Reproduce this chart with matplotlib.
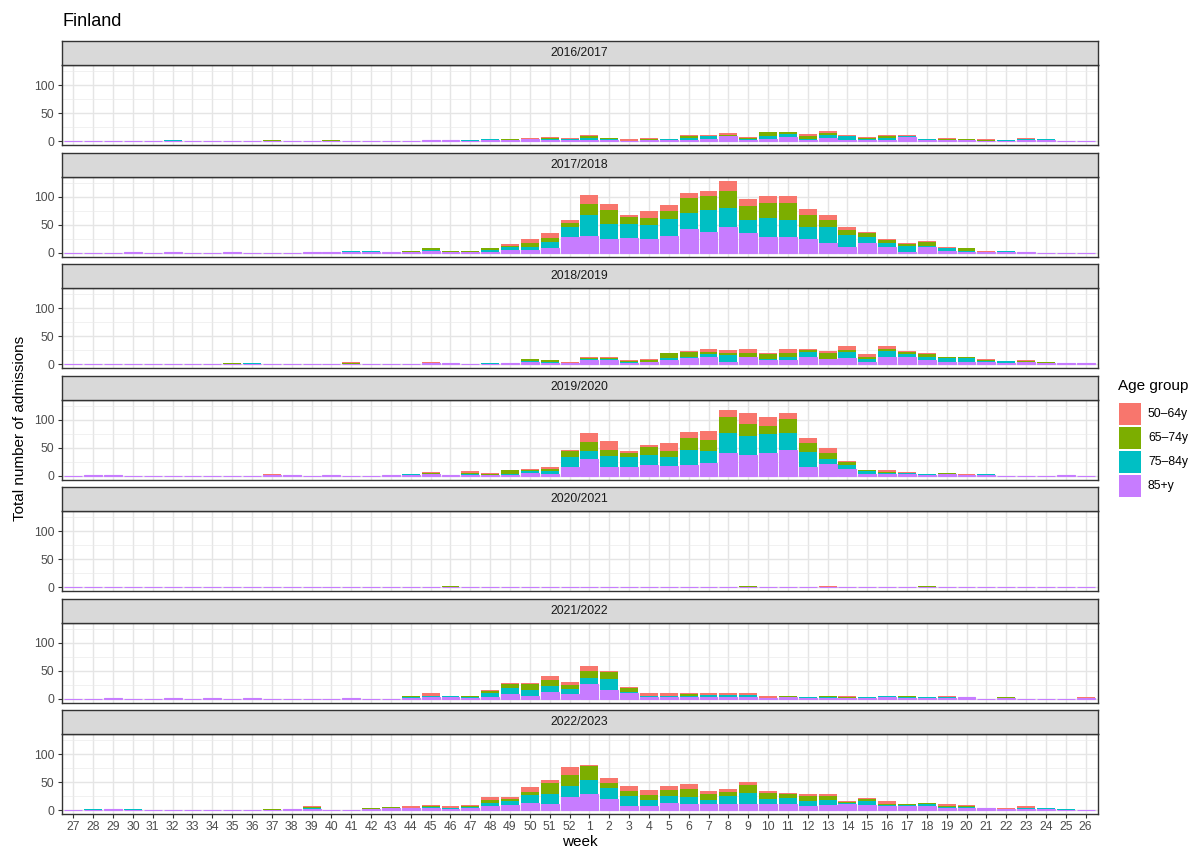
import numpy as np
import matplotlib.pyplot as plt
from matplotlib.patches import Rectangle

plt.rcParams['font.family'] = ['Liberation Sans', 'DejaVu Sans']

weeks = list(range(27, 53)) + list(range(1, 27))
seasons = ['2016/2017', '2017/2018', '2018/2019', '2019/2020',
           '2020/2021', '2021/2022', '2022/2023']
age_groups = ['50\u201364y', '65\u201374y', '75\u201384y', '85+y']
colors = ['#F8766D', '#7CAE00', '#00BFC4', '#C77CFF']

# each list: weeks 27..52 then 1..26
s16_85 = [0,0,0,0,0,0,0,0,0,0,0,0,0,0,0,0,0,0,2,2,1,2,3,4,3,3,
          3,3,1,3,2,3,5,9,3,5,7,3,6,3,3,3,7,2,3,2,1,1,3,2,0,0]
s16_75 = [0,0,0,0,0,2,0,0,0,0,0,0,0,0,0,0,0,0,0,0,2,2,0,0,2,2,
          3,2,0,0,2,3,4,0,2,5,6,2,6,6,2,3,2,2,0,0,0,1,1,2,0,0]
s16_65 = [0,0,0,0,0,0,0,0,0,0,2,0,0,2,0,0,0,0,0,0,0,0,1,1,1,0,
          3,1,0,2,0,3,0,3,1,6,3,4,3,0,1,3,0,0,2,2,1,0,1,0,0,0]
s16_50 = [0,0,0,0,0,0,0,0,0,0,0,0,0,0,0,0,0,0,0,0,0,1,0,1,2,1,
          2,0,3,1,0,2,2,3,2,1,1,4,3,2,2,2,2,0,1,0,2,0,1,0,0,0]

s17_85 = [0,0,0,2,0,1,0,0,1,0,0,0,1,1,2,2,1,2,3,2,2,2,6,6,8,29,
          31,24,27,24,31,42,38,47,36,29,29,24,17,11,17,11,2,11,4,2,1,1,1,0,0,0]
s17_75 = [0,0,0,0,0,0,0,0,0,0,0,0,0,0,2,2,0,0,3,0,0,3,4,5,11,18,
          36,28,24,25,29,29,39,34,23,34,30,23,29,21,11,7,11,1,5,2,0,3,0,0,0,0]
s17_65 = [0,0,0,0,0,0,0,0,0,0,0,0,1,1,0,0,1,2,2,2,2,3,3,7,8,7,
          21,24,13,14,14,27,25,30,24,27,30,20,12,9,7,5,3,7,0,4,0,0,1,0,0,0]
s17_50 = [0,0,0,0,0,1,0,0,1,0,0,0,0,0,0,0,0,0,1,0,0,1,2,7,8,4,
          16,11,4,12,11,9,9,18,14,11,12,12,9,5,2,2,1,3,2,0,3,0,0,0,0,0]

s18_85 = [0,0,0,0,0,0,0,0,0,0,0,0,0,0,1,0,0,0,3,2,0,1,2,4,3,3,
          7,7,3,4,7,11,13,5,13,7,7,13,9,11,4,13,13,7,4,4,4,3,4,3,3,2]
s18_75 = [0,0,0,0,0,0,0,0,0,2,0,0,0,0,0,0,0,0,0,0,0,1,1,2,1,0,
          2,2,1,1,5,2,5,11,0,2,7,9,0,11,5,11,5,7,7,7,2,3,1,0,0,0]
s18_65 = [0,0,0,0,0,0,0,0,2,0,0,0,0,0,2,0,0,0,0,0,0,0,0,3,3,0,
          2,2,2,2,8,9,4,5,7,9,7,4,12,4,5,4,4,5,2,2,2,0,1,2,0,1]
s18_50 = [0,0,0,0,0,0,0,0,0,0,0,0,0,0,1,0,0,0,1,0,0,0,0,0,0,2,
          2,2,1,2,1,2,5,5,7,2,7,2,2,7,4,4,2,2,1,1,2,0,1,0,0,0]

s19_85 = [0,1,2,0,0,0,0,0,0,0,2,1,0,2,0,0,1,2,3,1,2,2,2,6,4,16,
          31,16,15,19,17,19,23,40,38,40,47,15,22,12,3,3,3,1,3,1,1,0,0,0,2,0]
s19_75 = [0,0,0,0,0,0,0,0,0,0,0,1,0,0,0,0,1,2,1,1,2,0,2,2,4,18,
          14,20,18,18,16,27,21,36,34,34,30,27,9,7,5,2,2,2,0,0,2,0,0,0,0,0]
s19_65 = [0,0,0,0,0,0,0,0,0,0,0,0,0,0,0,0,0,0,2,0,1,2,6,2,4,11,
          16,11,7,14,11,21,20,29,20,16,25,16,9,5,2,2,1,0,2,0,0,0,0,0,0,0]
s19_50 = [0,1,0,0,0,0,0,0,0,0,2,0,0,0,0,0,0,0,1,0,4,1,0,2,3,1,
          16,16,4,5,14,12,16,12,20,16,11,9,9,2,1,4,1,0,0,2,0,0,0,0,0,0]

s20_85 = [0,0,0,0,0,0,0,0,0,0,0,0,0,0,0,0,0,0,0,1,0,0,0,0,0,0,
          0,0,0,0,0,0,0,0,1,0,0,0,1,0,0,0,0,1,0,0,0,0,0,0,0,0]
s20_75 = [0] * 52
s20_65 = [0,0,0,0,0,0,0,0,0,0,0,0,0,0,0,0,0,0,0,2,0,0,0,0,0,0,
          0,0,0,0,0,0,0,0,1,0,0,0,0,0,0,0,0,1,0,0,0,0,0,0,0,0]
s20_50 = [0,0,0,0,0,0,0,0,0,0,0,0,0,0,0,0,0,0,0,0,0,0,0,0,0,0,
          0,0,0,0,0,0,0,0,0,0,0,0,1,0,0,0,0,0,0,0,0,0,0,0,0,0]

s21_85 = [0,0,1,0,0,1,0,1,0,2,0,0,0,0,1,0,0,2,3,3,2,3,8,6,12,8,
          26,15,10,3,3,3,3,3,3,2,3,2,2,2,2,3,2,2,2,3,0,2,0,0,0,1]
s21_75 = [0,0,0,0,0,0,0,0,0,0,0,0,0,0,1,0,0,1,2,2,1,7,11,9,11,9,
          12,20,3,3,3,3,4,4,4,0,0,1,1,0,1,2,1,1,1,0,0,0,0,0,0,0]
s21_65 = [0,0,0,0,0,0,0,1,0,0,0,0,0,0,0,0,0,2,1,1,2,4,8,12,11,7,
          12,13,7,0,0,3,0,0,0,0,2,0,2,1,0,1,2,0,0,0,0,1,0,0,0,0]
s21_50 = [0,0,1,0,0,1,0,0,0,0,0,0,0,0,0,0,0,1,4,0,1,1,1,1,7,7,
          9,1,2,4,4,2,3,3,3,3,0,0,0,2,0,0,1,0,2,0,0,0,0,0,0,2]

s22_85 = [1,1,2,1,0,0,0,0,0,0,1,2,3,0,0,3,4,4,4,2,4,7,9,13,11,23,
          29,20,7,7,14,12,11,12,11,11,11,7,9,11,9,7,7,7,5,5,4,2,3,3,1,1]
s22_75 = [0,2,0,2,0,0,0,0,0,0,0,0,2,0,0,0,0,0,2,2,2,7,7,14,18,20,
          25,20,18,12,12,11,7,14,20,9,11,9,9,2,7,2,2,4,1,1,1,0,1,1,2,0]
s22_65 = [0,0,0,0,0,0,0,0,0,0,2,0,1,0,0,1,2,1,2,1,2,5,5,5,20,21,
          25,9,9,9,11,16,11,7,14,11,8,9,7,2,4,2,2,2,2,2,0,0,1,1,0,0]
s22_50 = [0,0,0,0,0,0,0,0,0,0,0,0,1,0,0,0,0,2,1,2,1,4,2,9,5,14,
          2,9,9,9,7,9,5,5,5,4,1,4,4,2,2,5,0,0,4,1,0,2,2,0,0,0]

season_data = [
    (s16_50, s16_65, s16_75, s16_85),
    (s17_50, s17_65, s17_75, s17_85),
    (s18_50, s18_65, s18_75, s18_85),
    (s19_50, s19_65, s19_75, s19_85),
    (s20_50, s20_65, s20_75, s20_85),
    (s21_50, s21_65, s21_75, s21_85),
    (s22_50, s22_65, s22_75, s22_85),
]

W, H = 1201, 848
fig = plt.figure(figsize=(W / 100, H / 100), dpi=100)

x = np.arange(1, len(weeks) + 1)
left, right = 61.5, 1097.5
for k, (name, data) in enumerate(zip(seasons, season_data)):
    top = 65 + 111.5 * k
    ax = fig.add_axes([left / W, 1 - (top + 80) / H, (right - left) / W, 80 / H])
    sx = fig.add_axes([left / W, 1 - top / H, (right - left) / W, 24 / H])

    # stack from the bottom: 85+y first, 50-64y on top
    bottom = np.zeros(len(weeks))
    for j in [3, 2, 1, 0]:
        vals = np.array(data[j], dtype=float)
        if j == 3:
            ax.bar(x, vals, 0.9, bottom=bottom, color=colors[j],
                   edgecolor=colors[j], linewidth=0.8, zorder=2)
        else:
            ax.bar(x, vals, 0.9, bottom=bottom, color=colors[j],
                   linewidth=0, zorder=2)
        bottom += vals

    ax.set_xlim(0.4, 52.6)
    ax.set_ylim(-6.5, 136.5)
    ax.set_yticks([0, 50, 100])
    ax.set_yticks([25, 75, 125], minor=True)
    ax.set_xticks(x)
    ax.grid(which='major', color='#E5E5E5', linewidth=1.0)
    ax.grid(which='minor', axis='y', color='#EBEBEB', linewidth=0.5)
    ax.set_axisbelow(True)
    for sp in ax.spines.values():
        sp.set_color('#333333')
        sp.set_linewidth(1.0)
    ax.tick_params(axis='y', which='major', length=3, color='#333333',
                   labelcolor='#4D4D4D', labelsize=8.8, pad=2)
    ax.tick_params(which='minor', length=0)
    if k == len(seasons) - 1:
        ax.set_xticklabels([str(w) for w in weeks])
        ax.tick_params(axis='x', length=3, color='#333333',
                       labelcolor='#4D4D4D', labelsize=8.8, pad=2)
    else:
        ax.tick_params(axis='x', length=0, labelbottom=False)

    sx.set_facecolor('#D9D9D9')
    sx.set_xticks([])
    sx.set_yticks([])
    for sp in sx.spines.values():
        sp.set_color('#333333')
        sp.set_linewidth(1.0)
    sx.text(0.5, 0.5, name, ha='center', va='center', fontsize=8.8,
            color='#1A1A1A', transform=sx.transAxes)

fig.text(62 / W, 1 - 22 / H, 'Finland', fontsize=13, va='center', ha='left')
fig.text(579.5 / W, 1 - 842 / H, 'week', fontsize=11, ha='center', va='center')
fig.text(20 / W, 1 - 428 / H, 'Total number of admissions', fontsize=11,
         rotation=90, ha='center', va='center')

# legend
lg = fig.add_axes([1110 / W, 1 - 510 / H, 90 / W, 140 / H])
lg.set_xlim(1110, 1200)
lg.set_ylim(510, 370)
lg.axis('off')
lg.text(1118, 386, 'Age group', fontsize=11, va='center', ha='left')
for j, lab in enumerate(age_groups):
    yc = 414 + 24 * j
    lg.add_patch(Rectangle((1119, yc - 11), 22, 22, color=colors[j], lw=0))
    lg.text(1148, yc, lab, fontsize=8.8, va='center', ha='left')

fig.savefig('out.png', dpi=100)
